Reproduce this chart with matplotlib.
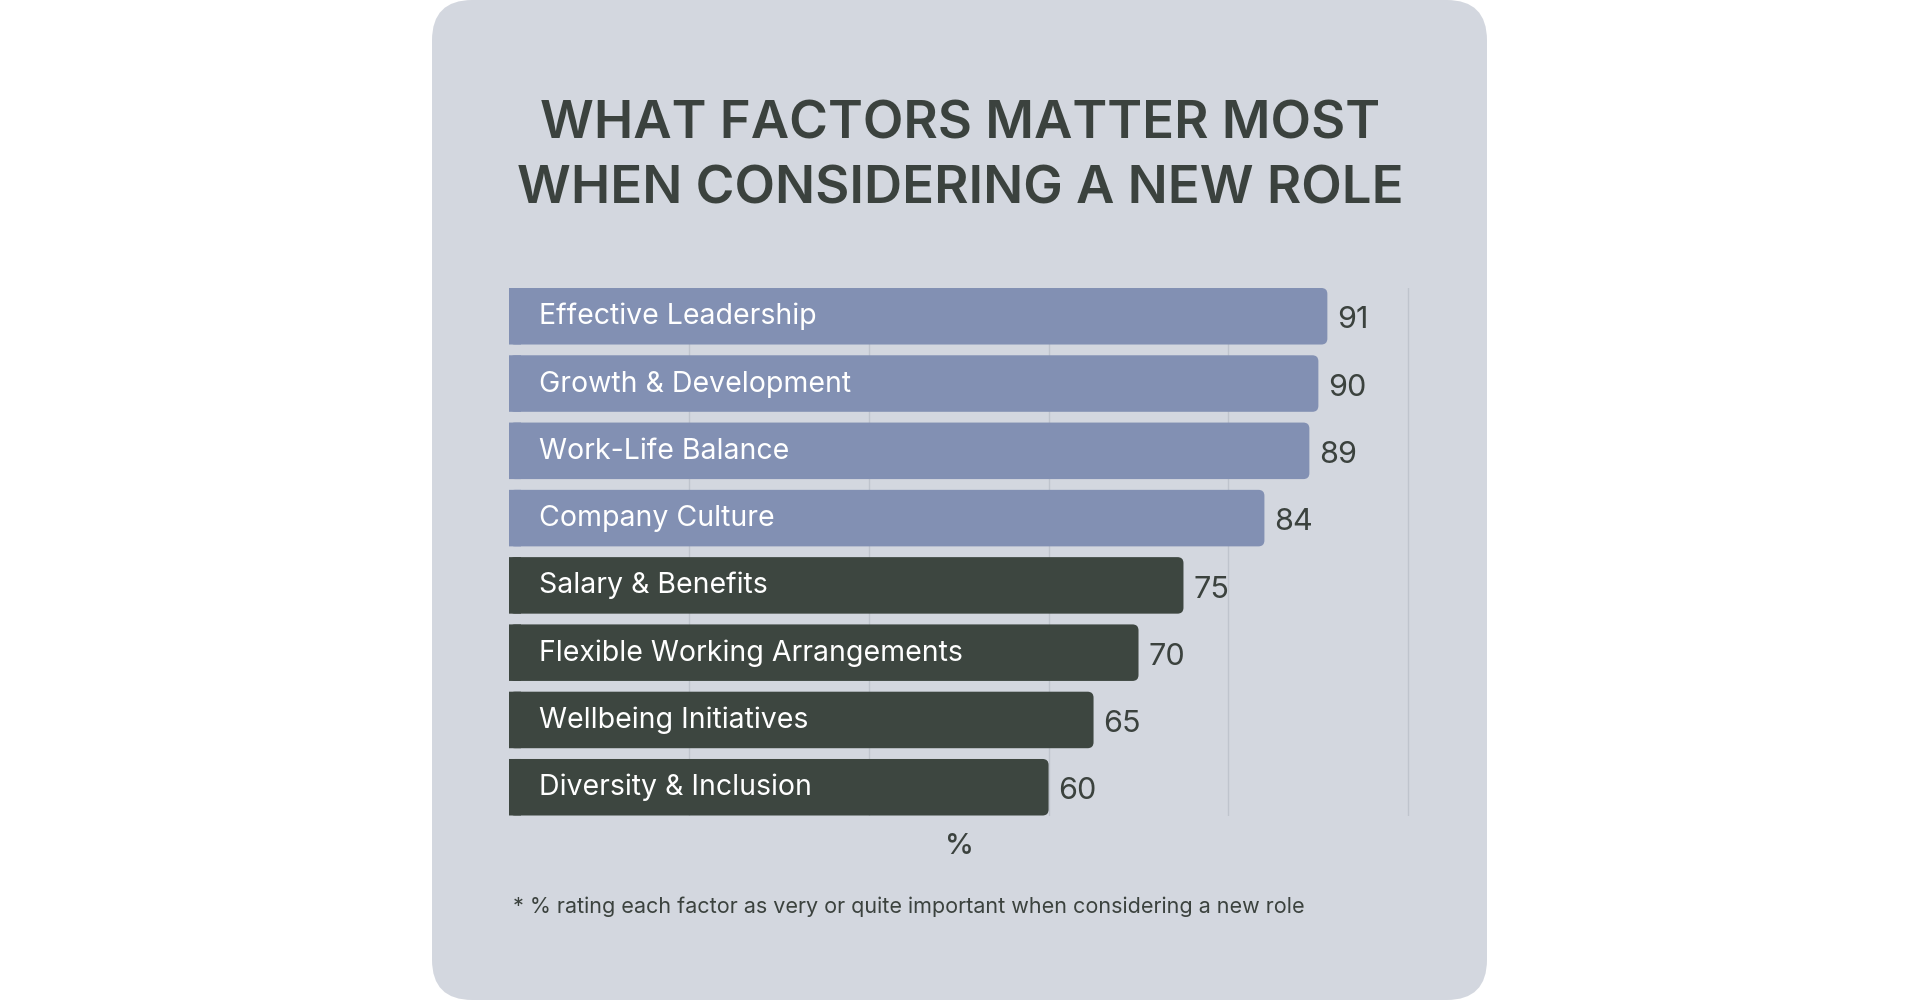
import matplotlib
matplotlib.use("Agg")
import matplotlib.pyplot as plt
from matplotlib.patches import FancyBboxPatch, Rectangle

plt.rcParams["font.family"] = ["Inter", "DejaVu Sans"]

# data
factors = [
    "Effective Leadership",
    "Growth & Development",
    "Work-Life Balance",
    "Company Culture",
    "Salary & Benefits",
    "Flexible Working Arrangements",
    "Wellbeing Initiatives",
    "Diversity & Inclusion",
]
values = [91, 90, 89, 84, 75, 70, 65, 60]
groups = ["top", "top", "top", "top", "rest", "rest", "rest", "rest"]
grid_ticks = [20, 40, 60, 80, 100]

TITLE = "WHAT FACTORS MATTER MOST\nWHEN CONSIDERING A NEW ROLE"
FOOTNOTE = "* % rating each factor as very or quite important when considering a new role"

CARD_BG = "#d3d7df"
BAR_COLORS = {"top": "#8290b3", "rest": "#3d4640"}
TEXT_DARK = "#3b423e"
GRID = "#bfc4cd"

fig = plt.figure(figsize=(19.2, 10), dpi=100)
fig.patch.set_facecolor("white")

# rounded card behind everything
card = FancyBboxPatch((432 / 1920, 0.0), (1487 - 432) / 1920, 1.0,
                      boxstyle="round,pad=0,rounding_size=0.021",
                      mutation_aspect=1.92,
                      transform=fig.transFigure, facecolor=CARD_BG,
                      edgecolor="none", zorder=-5)
fig.patches.append(card)

fig.text(0.5, 0.8425, TITLE, ha="center", va="center", fontsize=38,
         fontweight="semibold", color=TEXT_DARK, linespacing=1.43)

ax = fig.add_axes([509 / 1920, 0.1845, (1411 - 509) / 1920, 0.5275])
ax.set_zorder(2)
ax.set_facecolor("none")
bar_h = 0.84
ax.set_xlim(0, 100.3)
ax.set_ylim(len(values) - 1 + bar_h / 2, -bar_h / 2)

ax.set_xticks(grid_ticks)
ax.grid(axis="x", color=GRID, linewidth=1)
ax.set_axisbelow(True)
ax.tick_params(left=False, bottom=False, labelleft=False, labelbottom=False)
for s in ax.spines.values():
    s.set_visible(False)

# px -> data aspect for rounded ends
x_per_px = 100.3 / (1411 - 509)
y_per_px = (len(values) - 1 + bar_h) / 527.5
aspect = y_per_px / x_per_px
r = 6 * x_per_px

for i, (name, val, grp) in enumerate(zip(factors, values, groups)):
    col = BAR_COLORS[grp]
    # rounded right end, square left end
    ax.add_patch(FancyBboxPatch((0, i - bar_h / 2), val, bar_h,
                                boxstyle=f"round,pad=0,rounding_size={r}",
                                mutation_aspect=aspect, facecolor=col,
                                edgecolor="none", zorder=2, snap=False))
    ax.add_patch(Rectangle((0, i - bar_h / 2), 2 * r, bar_h,
                           facecolor=col, edgecolor="none", zorder=2,
                           snap=False))
    ax.text(3.3, i + 0.12, name, ha="left", va="baseline", fontsize=20.5,
            color="white", zorder=3)
    ax.text(val + 1.1, i + 0.18, str(val), ha="left", va="baseline",
            fontsize=22, color=TEXT_DARK, zorder=3)

fig.text(0.5, 1 - 846.5 / 1000, "%", ha="center", va="center", fontsize=21,
         fontweight="medium", color=TEXT_DARK)
fig.text(513 / 1920, 1 - 906.5 / 1000, FOOTNOTE, ha="left", va="center",
         fontsize=15.5, color=TEXT_DARK)

fig.savefig("out.png", dpi=100, facecolor=fig.get_facecolor())
